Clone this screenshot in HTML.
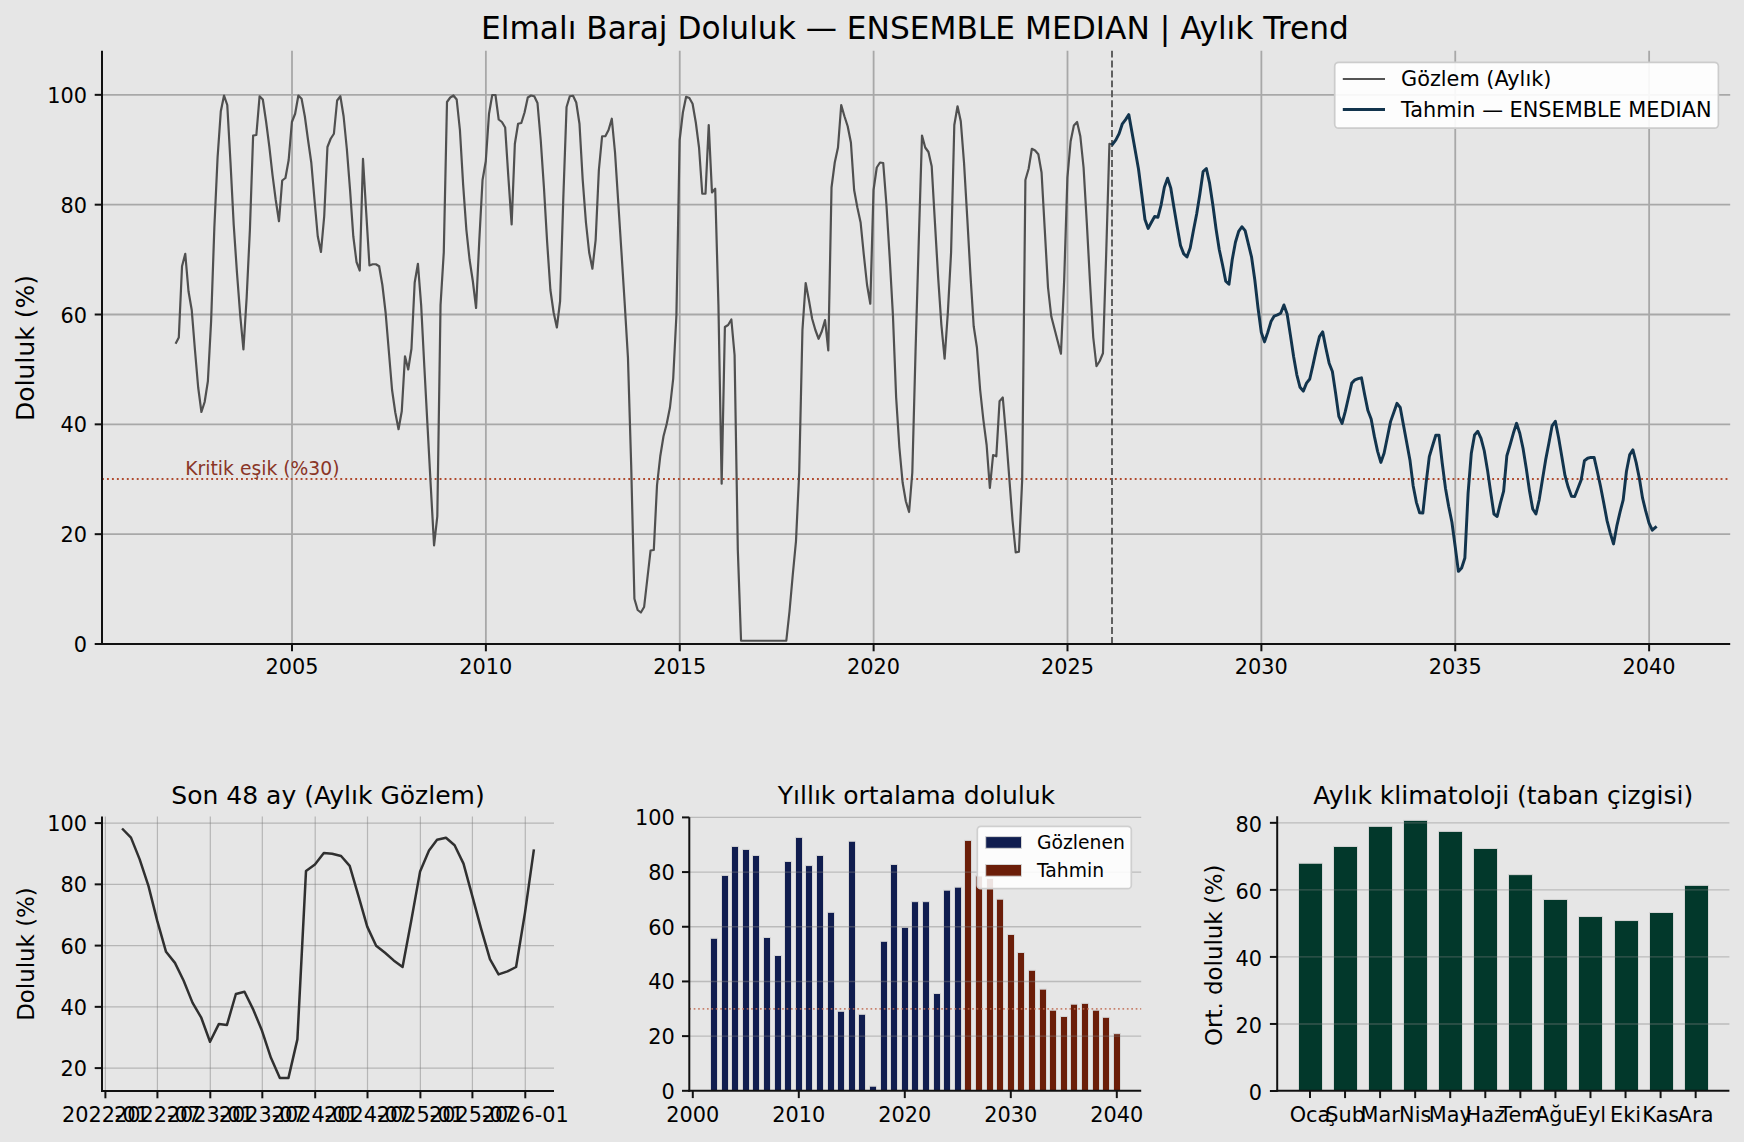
<!DOCTYPE html>
<html lang="tr"><head><meta charset="utf-8"><title>Elmalı Baraj Doluluk</title>
<style>
html,body{margin:0;padding:0;background:#e6e6e6;}
body{width:1744px;height:1142px;overflow:hidden;}
svg{display:block;font-family:'DejaVu Sans','Liberation Sans',sans-serif;}
</style></head><body>
<svg width="1744" height="1142" viewBox="0 0 1744 1142">
<rect width="1744" height="1142" fill="#e6e6e6"/>
<g id="main">
<line x1="292" y1="50.8" x2="292" y2="644" stroke="#a8a8a8" stroke-width="1.8"/>
<line x1="485.88" y1="50.8" x2="485.88" y2="644" stroke="#a8a8a8" stroke-width="1.8"/>
<line x1="679.75" y1="50.8" x2="679.75" y2="644" stroke="#a8a8a8" stroke-width="1.8"/>
<line x1="873.62" y1="50.8" x2="873.62" y2="644" stroke="#a8a8a8" stroke-width="1.8"/>
<line x1="1067.5" y1="50.8" x2="1067.5" y2="644" stroke="#a8a8a8" stroke-width="1.8"/>
<line x1="1261.38" y1="50.8" x2="1261.38" y2="644" stroke="#a8a8a8" stroke-width="1.8"/>
<line x1="1455.25" y1="50.8" x2="1455.25" y2="644" stroke="#a8a8a8" stroke-width="1.8"/>
<line x1="1649.12" y1="50.8" x2="1649.12" y2="644" stroke="#a8a8a8" stroke-width="1.8"/>
<line x1="102" y1="534.17" x2="1730.2" y2="534.17" stroke="#a8a8a8" stroke-width="1.8"/>
<line x1="102" y1="424.34" x2="1730.2" y2="424.34" stroke="#a8a8a8" stroke-width="1.8"/>
<line x1="102" y1="314.51" x2="1730.2" y2="314.51" stroke="#a8a8a8" stroke-width="1.8"/>
<line x1="102" y1="204.68" x2="1730.2" y2="204.68" stroke="#a8a8a8" stroke-width="1.8"/>
<line x1="102" y1="94.85" x2="1730.2" y2="94.85" stroke="#a8a8a8" stroke-width="1.8"/>
<line x1="102" y1="478.95" x2="1730.2" y2="478.95" stroke="#b04a2e" stroke-width="1.9" stroke-dasharray="1.875 3.09"/>
<line x1="1112" y1="644" x2="1112" y2="50.8" stroke="#5a5a5a" stroke-width="1.9" stroke-dasharray="6.94 3"/>
<polyline points="175.57,343.75 178.8,337.5 182.03,266.25 185.26,253.75 188.5,291.25 191.73,310 194.96,350 198.19,387.5 201.42,412 204.65,402 207.88,381.25 211.11,321.25 214.35,227.5 217.58,157.5 220.81,111.25 224.04,95.5 227.27,105 230.5,162.5 233.73,225 236.96,272.5 240.2,315 243.43,349.5 246.66,297.5 249.89,230 253.12,135.5 256.35,135 259.58,96.25 262.82,99.5 266.05,121.25 269.28,146.25 272.51,175 275.74,200 278.97,221.25 282.2,180.5 285.43,178 288.67,160 291.9,122 295.13,113.75 298.36,95.5 301.59,98.75 304.82,116.25 308.05,140 311.28,162.5 314.52,200 317.75,236.25 320.98,252 324.21,216.25 327.44,147 330.67,138.75 333.9,133.75 337.13,100.5 340.37,96.25 343.6,116.25 346.83,148.75 350.06,190 353.29,236.25 356.52,262 359.75,270.5 362.99,158.75 366.22,212.5 369.45,265.5 372.68,264.25 375.91,264.25 379.14,266.25 382.37,285 385.6,312.5 388.84,351.25 392.07,390 395.3,412.5 398.53,429.25 401.76,411.25 404.99,356.25 408.22,369.5 411.45,348.75 414.69,282.5 417.92,263.75 421.15,305 424.38,367.5 427.61,427.5 430.84,487.5 434.07,545.5 437.31,516.25 440.54,305 443.77,252.5 447,102 450.23,97.5 453.46,95.5 456.69,99.5 459.92,130 463.16,185 466.39,230 469.62,260 472.85,281.25 476.08,308 479.31,240 482.54,180 485.77,161.25 489.01,113.75 492.24,95 495.47,95 498.7,119.5 501.93,122 505.16,127.5 508.39,177.5 511.63,224.5 514.86,143.75 518.09,123.75 521.32,123 524.55,112.5 527.78,97.5 531.01,95.5 534.24,96.25 537.48,103 540.71,140 543.94,187.5 547.17,242.5 550.4,290 553.63,312.5 556.86,327.5 560.09,301.25 563.33,197.5 566.56,107 569.79,96.25 573.02,95.75 576.25,102.5 579.48,123.75 582.71,180 585.95,222.5 589.18,252.5 592.41,268.75 595.64,240 598.87,170 602.1,136.25 605.33,136.25 608.56,130 611.8,118.75 615.03,152.5 618.26,202.5 621.49,252.5 624.72,303.75 627.95,357.5 631.18,465 634.41,598.75 637.65,610 640.88,612.5 644.11,607 647.34,578.75 650.57,550.5 653.8,550 657.03,485 660.26,456.25 663.5,436.25 666.73,423.75 669.96,407.5 673.19,378.75 676.42,315 679.65,140 682.88,112.5 686.12,96.75 689.35,98 692.58,103.75 695.81,122.5 699.04,147.5 702.27,193.75 705.5,193.75 708.73,125 711.97,192.5 715.2,188.75 718.43,305 721.66,483.75 724.89,327 728.12,325 731.35,319.5 734.58,355 737.82,550 741.05,640.75 744.28,640.75 747.51,640.75 750.74,640.75 753.97,640.75 757.2,640.75 760.44,640.75 763.67,640.75 766.9,640.75 770.13,640.75 773.36,640.75 776.59,640.75 779.82,640.75 783.05,640.75 786.29,640.75 789.52,611.25 792.75,575 795.98,541.25 799.21,472.5 802.44,330 805.67,283 808.9,300 812.14,318.75 815.37,330 818.6,338.75 821.83,331.25 825.06,320 828.29,350.5 831.52,187.5 834.76,162.5 837.99,147.5 841.22,105 844.45,116.25 847.68,126.25 850.91,142.5 854.14,190 857.37,207.5 860.61,222.5 863.84,255 867.07,285 870.3,303.75 873.53,190 876.76,167.5 879.99,162.5 883.22,163 886.46,205 889.69,257.5 892.92,315 896.15,397.5 899.38,447.5 902.61,482.5 905.84,501.25 909.08,512 912.31,472.5 915.54,351.5 918.77,241 922,135.5 925.23,147.5 928.46,152 931.69,166.25 934.93,222.5 938.16,277.5 941.39,325 944.62,358.75 947.85,312.5 951.08,252.5 954.31,125 957.54,106.25 960.78,121.25 964.01,162.5 967.24,217.5 970.47,275 973.7,326.25 976.93,347.5 980.16,390 983.39,420 986.63,445 989.86,488 993.09,455 996.32,456.25 999.55,401.25 1002.78,397.5 1006.01,435 1009.25,477.5 1012.48,520 1015.71,552.5 1018.94,551.75 1022.17,480 1025.4,180 1028.63,168.75 1031.86,148.75 1035.1,150.5 1038.33,154.25 1041.56,172.5 1044.79,230 1048.02,287.5 1051.25,316.25 1054.48,328.75 1057.71,341.25 1060.95,353.75 1064.18,280 1067.41,177.5 1070.64,141.25 1073.87,125.5 1077.1,122 1080.33,136.25 1083.57,167.5 1086.8,222.5 1090.03,282.5 1093.26,337.5 1096.49,366.25 1099.72,361 1102.95,353.25 1106.18,254.25 1109.42,143.75 1112,144.25" fill="none" stroke="#505050" stroke-width="2.2" stroke-linejoin="round"/>
<polyline points="1112.65,144.07 1115.88,139.91 1119.11,133.59 1122.34,123.78 1125.57,119.62 1128.8,114.62 1132.03,132.43 1135.27,150.73 1138.5,169.03 1141.73,193.99 1144.96,219.44 1148.19,228.43 1151.42,222.27 1154.65,216.45 1157.89,217.28 1161.12,204.8 1164.35,187.33 1167.58,178.18 1170.81,188.16 1174.04,208.13 1177.27,227.26 1180.5,245.57 1183.74,253.89 1186.97,256.88 1190.2,248.06 1193.43,230.59 1196.66,213.95 1199.89,193.99 1203.12,171.53 1206.35,168.53 1209.59,183.17 1212.82,204.8 1216.05,228.93 1219.28,249.73 1222.51,264.7 1225.74,281.25 1228.97,284.25 1232.21,259.71 1235.44,242.24 1238.67,231.42 1241.9,226.77 1245.13,230.59 1248.36,243.9 1251.59,257.21 1254.82,279.98 1258.06,308.27 1261.29,332.39 1264.52,341.88 1267.75,332.39 1270.98,321.58 1274.21,316.09 1277.44,314.92 1280.67,313.26 1283.91,304.94 1287.14,314.09 1290.37,334.89 1293.6,356.52 1296.83,374.82 1300.06,387.3 1303.29,391.13 1306.52,383.14 1309.76,378.98 1312.99,364.84 1316.22,349.86 1319.45,336.55 1322.68,331.89 1325.91,348.2 1329.14,363.17 1332.38,371.49 1335.61,393.12 1338.84,416.42 1342.07,423.4 1345.3,411.42 1348.53,397.28 1351.76,383.14 1354.99,379.81 1358.23,378.65 1361.46,377.81 1364.69,394.79 1367.92,410.59 1371.15,418.91 1374.38,436.38 1377.61,451.36 1380.84,462.39 1384.08,453.24 1387.31,437.44 1390.54,421.63 1393.77,412.48 1397,403.33 1400.23,407.49 1403.46,424.96 1406.7,442.43 1409.93,459.9 1413.16,485.69 1416.39,502.32 1419.62,512.81 1422.85,513.14 1426.08,483.19 1429.31,456.57 1432.55,445.75 1435.78,435.27 1439.01,435.27 1442.24,463.22 1445.47,488.18 1448.7,506.48 1451.93,522.29 1455.16,546.42 1458.4,571.37 1461.63,568.04 1464.86,558.06 1468.09,493.17 1471.32,453.24 1474.55,434.94 1477.78,431.28 1481.02,438.27 1484.25,450.75 1487.48,469.88 1490.71,492.34 1493.94,513.97 1497.17,516.47 1500.4,503.16 1503.63,491.18 1506.87,455.74 1510.1,444.92 1513.33,433.28 1516.56,423.29 1519.79,433.28 1523.02,448.25 1526.25,468.22 1529.48,490.68 1532.72,508.98 1535.95,513.97 1539.18,499.83 1542.41,479.86 1545.64,459.9 1548.87,443.26 1552.1,425.79 1555.34,421.3 1558.57,437.44 1561.8,456.57 1565.03,475.7 1568.26,487.35 1571.49,496.17 1574.72,496.5 1577.95,488.18 1581.19,479.86 1584.42,460.73 1587.65,458.23 1590.88,457.4 1594.11,457.4 1597.34,471.54 1600.57,486.52 1603.8,503.16 1607.04,520.63 1610.27,533.1 1613.5,543.92 1616.73,526.45 1619.96,512.31 1623.19,499.83 1626.42,471.54 1629.65,454.91 1632.89,449.91 1636.12,462.39 1639.35,478.2 1642.58,498.16 1645.81,511.48 1649.04,523.12 1652.27,530.11 1655.51,527.28" fill="none" stroke="#12344d" stroke-width="2.95" stroke-linejoin="round" stroke-linecap="square"/>
<line x1="102" y1="50.8" x2="102" y2="645" stroke="#111" stroke-width="2.0"/>
<line x1="101" y1="644" x2="1730.2" y2="644" stroke="#111" stroke-width="2.0"/>
<line x1="292" y1="644" x2="292" y2="651.3" stroke="#111" stroke-width="2.0"/>
<text x="292" y="674.2" font-size="20.83" text-anchor="middle" fill="#000">2005</text>
<line x1="485.88" y1="644" x2="485.88" y2="651.3" stroke="#111" stroke-width="2.0"/>
<text x="485.88" y="674.2" font-size="20.83" text-anchor="middle" fill="#000">2010</text>
<line x1="679.75" y1="644" x2="679.75" y2="651.3" stroke="#111" stroke-width="2.0"/>
<text x="679.75" y="674.2" font-size="20.83" text-anchor="middle" fill="#000">2015</text>
<line x1="873.62" y1="644" x2="873.62" y2="651.3" stroke="#111" stroke-width="2.0"/>
<text x="873.62" y="674.2" font-size="20.83" text-anchor="middle" fill="#000">2020</text>
<line x1="1067.5" y1="644" x2="1067.5" y2="651.3" stroke="#111" stroke-width="2.0"/>
<text x="1067.5" y="674.2" font-size="20.83" text-anchor="middle" fill="#000">2025</text>
<line x1="1261.38" y1="644" x2="1261.38" y2="651.3" stroke="#111" stroke-width="2.0"/>
<text x="1261.38" y="674.2" font-size="20.83" text-anchor="middle" fill="#000">2030</text>
<line x1="1455.25" y1="644" x2="1455.25" y2="651.3" stroke="#111" stroke-width="2.0"/>
<text x="1455.25" y="674.2" font-size="20.83" text-anchor="middle" fill="#000">2035</text>
<line x1="1649.12" y1="644" x2="1649.12" y2="651.3" stroke="#111" stroke-width="2.0"/>
<text x="1649.12" y="674.2" font-size="20.83" text-anchor="middle" fill="#000">2040</text>
<line x1="94.7" y1="644" x2="102" y2="644" stroke="#111" stroke-width="2.0"/>
<text x="87" y="652.1" font-size="20.83" text-anchor="end" fill="#000">0</text>
<line x1="94.7" y1="534.17" x2="102" y2="534.17" stroke="#111" stroke-width="2.0"/>
<text x="87" y="542.27" font-size="20.83" text-anchor="end" fill="#000">20</text>
<line x1="94.7" y1="424.34" x2="102" y2="424.34" stroke="#111" stroke-width="2.0"/>
<text x="87" y="432.44" font-size="20.83" text-anchor="end" fill="#000">40</text>
<line x1="94.7" y1="314.51" x2="102" y2="314.51" stroke="#111" stroke-width="2.0"/>
<text x="87" y="322.61" font-size="20.83" text-anchor="end" fill="#000">60</text>
<line x1="94.7" y1="204.68" x2="102" y2="204.68" stroke="#111" stroke-width="2.0"/>
<text x="87" y="212.78" font-size="20.83" text-anchor="end" fill="#000">80</text>
<line x1="94.7" y1="94.85" x2="102" y2="94.85" stroke="#111" stroke-width="2.0"/>
<text x="87" y="102.95" font-size="20.83" text-anchor="end" fill="#000">100</text>
<text transform="translate(34.2 348) rotate(-90)" font-size="25" text-anchor="middle" fill="#000">Doluluk (%)</text>
<text x="914.9" y="38.9" font-size="31.25" text-anchor="middle" fill="#000">Elmalı Baraj Doluluk — ENSEMBLE MEDIAN | Aylık Trend</text>
<text x="185.3" y="475" font-size="18.75" text-anchor="start" fill="#8a3526">Kritik eşik (%30)</text>
<rect x="1334.7" y="62.3" width="383.7" height="65.9" rx="4" ry="4" fill="#ffffff" fill-opacity="0.9" stroke="#cccccc" stroke-width="1.7"/>
<line x1="1342.8" y1="79" x2="1385" y2="79" stroke="#545454" stroke-width="2.1"/>
<line x1="1342.8" y1="109.5" x2="1385" y2="109.5" stroke="#12344d" stroke-width="3.1"/>
<text x="1401" y="86.1" font-size="20.83" text-anchor="start" fill="#000">Gözlem (Aylık)</text>
<text x="1401" y="117.3" font-size="20.83" text-anchor="start" fill="#000">Tahmin — ENSEMBLE MEDIAN</text>
</g>
<g id="last48">
<line x1="105.4" y1="816.5" x2="105.4" y2="1091" stroke="#808080" stroke-opacity="0.47" stroke-width="1.2"/>
<line x1="157.42" y1="816.5" x2="157.42" y2="1091" stroke="#808080" stroke-opacity="0.47" stroke-width="1.2"/>
<line x1="210.3" y1="816.5" x2="210.3" y2="1091" stroke="#808080" stroke-opacity="0.47" stroke-width="1.2"/>
<line x1="262.32" y1="816.5" x2="262.32" y2="1091" stroke="#808080" stroke-opacity="0.47" stroke-width="1.2"/>
<line x1="315.2" y1="816.5" x2="315.2" y2="1091" stroke="#808080" stroke-opacity="0.47" stroke-width="1.2"/>
<line x1="367.51" y1="816.5" x2="367.51" y2="1091" stroke="#808080" stroke-opacity="0.47" stroke-width="1.2"/>
<line x1="420.39" y1="816.5" x2="420.39" y2="1091" stroke="#808080" stroke-opacity="0.47" stroke-width="1.2"/>
<line x1="472.41" y1="816.5" x2="472.41" y2="1091" stroke="#808080" stroke-opacity="0.47" stroke-width="1.2"/>
<line x1="525.29" y1="816.5" x2="525.29" y2="1091" stroke="#808080" stroke-opacity="0.47" stroke-width="1.2"/>
<line x1="102" y1="1068.1" x2="554" y2="1068.1" stroke="#808080" stroke-opacity="0.47" stroke-width="1.2"/>
<line x1="102" y1="1006.85" x2="554" y2="1006.85" stroke="#808080" stroke-opacity="0.47" stroke-width="1.2"/>
<line x1="102" y1="945.6" x2="554" y2="945.6" stroke="#808080" stroke-opacity="0.47" stroke-width="1.2"/>
<line x1="102" y1="884.35" x2="554" y2="884.35" stroke="#808080" stroke-opacity="0.47" stroke-width="1.2"/>
<line x1="102" y1="823.1" x2="554" y2="823.1" stroke="#808080" stroke-opacity="0.47" stroke-width="1.2"/>
<polyline points="122.07,828.5 130.98,837.6 139.6,859.1 148.51,886.1 157.13,920.4 166.04,951.8 174.95,962.9 183.57,980.5 192.48,1002.6 201.1,1017.3 210.01,1041.8 218.92,1023.9 226.97,1024.9 235.88,994 244.5,991.8 253.41,1009.9 262.03,1030.8 270.94,1057.8 279.85,1078.1 288.47,1077.9 297.38,1039.4 306.01,870.9 314.91,864.5 323.82,853 332.16,853.7 341.07,856 349.69,865.8 358.6,896.4 367.22,926.6 376.13,945.7 385.04,952.8 393.66,960.4 402.57,967 411.19,920.9 420.1,871.4 429.01,850.6 437.06,839.8 445.97,837.8 454.59,845.2 463.5,863.6 472.12,895.4 481.03,928.3 489.94,959.2 498.56,974.4 507.47,971.4 516.09,967 525,912.6 533.91,849.3" fill="none" stroke="#303030" stroke-width="2.5" stroke-linejoin="round"/>
<line x1="102" y1="816.5" x2="102" y2="1092" stroke="#111" stroke-width="2.0"/>
<line x1="101" y1="1091" x2="554" y2="1091" stroke="#111" stroke-width="2.0"/>
<line x1="105.4" y1="1091" x2="105.4" y2="1098.3" stroke="#111" stroke-width="2.0"/>
<text x="105.4" y="1122.1" font-size="20.83" text-anchor="middle" fill="#000">2022-01</text>
<line x1="157.42" y1="1091" x2="157.42" y2="1098.3" stroke="#111" stroke-width="2.0"/>
<text x="157.42" y="1122.1" font-size="20.83" text-anchor="middle" fill="#000">2022-07</text>
<line x1="210.3" y1="1091" x2="210.3" y2="1098.3" stroke="#111" stroke-width="2.0"/>
<text x="210.3" y="1122.1" font-size="20.83" text-anchor="middle" fill="#000">2023-01</text>
<line x1="262.32" y1="1091" x2="262.32" y2="1098.3" stroke="#111" stroke-width="2.0"/>
<text x="262.32" y="1122.1" font-size="20.83" text-anchor="middle" fill="#000">2023-07</text>
<line x1="315.2" y1="1091" x2="315.2" y2="1098.3" stroke="#111" stroke-width="2.0"/>
<text x="315.2" y="1122.1" font-size="20.83" text-anchor="middle" fill="#000">2024-01</text>
<line x1="367.51" y1="1091" x2="367.51" y2="1098.3" stroke="#111" stroke-width="2.0"/>
<text x="367.51" y="1122.1" font-size="20.83" text-anchor="middle" fill="#000">2024-07</text>
<line x1="420.39" y1="1091" x2="420.39" y2="1098.3" stroke="#111" stroke-width="2.0"/>
<text x="420.39" y="1122.1" font-size="20.83" text-anchor="middle" fill="#000">2025-01</text>
<line x1="472.41" y1="1091" x2="472.41" y2="1098.3" stroke="#111" stroke-width="2.0"/>
<text x="472.41" y="1122.1" font-size="20.83" text-anchor="middle" fill="#000">2025-07</text>
<line x1="525.29" y1="1091" x2="525.29" y2="1098.3" stroke="#111" stroke-width="2.0"/>
<text x="525.29" y="1122.1" font-size="20.83" text-anchor="middle" fill="#000">2026-01</text>
<line x1="94.7" y1="1068.1" x2="102" y2="1068.1" stroke="#111" stroke-width="2.0"/>
<text x="87" y="1076.2" font-size="20.83" text-anchor="end" fill="#000">20</text>
<line x1="94.7" y1="1006.85" x2="102" y2="1006.85" stroke="#111" stroke-width="2.0"/>
<text x="87" y="1014.95" font-size="20.83" text-anchor="end" fill="#000">40</text>
<line x1="94.7" y1="945.6" x2="102" y2="945.6" stroke="#111" stroke-width="2.0"/>
<text x="87" y="953.7" font-size="20.83" text-anchor="end" fill="#000">60</text>
<line x1="94.7" y1="884.35" x2="102" y2="884.35" stroke="#111" stroke-width="2.0"/>
<text x="87" y="892.45" font-size="20.83" text-anchor="end" fill="#000">80</text>
<line x1="94.7" y1="823.1" x2="102" y2="823.1" stroke="#111" stroke-width="2.0"/>
<text x="87" y="831.2" font-size="20.83" text-anchor="end" fill="#000">100</text>
<text transform="translate(34.4 954) rotate(-90)" font-size="22.92" text-anchor="middle" fill="#000">Doluluk (%)</text>
<text x="328" y="803.9" font-size="25" text-anchor="middle" fill="#000">Son 48 ay (Aylık Gözlem)</text>
</g>
<g id="yearly">
<rect x="710.5" y="938.29" width="7" height="152.51" fill="#101d4f" stroke="#d5d5d5" stroke-width="1"/>
<rect x="721.5" y="875.41" width="7" height="215.39" fill="#101d4f" stroke="#d5d5d5" stroke-width="1"/>
<rect x="731.5" y="846.43" width="7" height="244.37" fill="#101d4f" stroke="#d5d5d5" stroke-width="1"/>
<rect x="742.5" y="849.43" width="7" height="241.37" fill="#101d4f" stroke="#d5d5d5" stroke-width="1"/>
<rect x="752.5" y="855.45" width="7" height="235.35" fill="#101d4f" stroke="#d5d5d5" stroke-width="1"/>
<rect x="763.5" y="937.47" width="7" height="153.33" fill="#101d4f" stroke="#d5d5d5" stroke-width="1"/>
<rect x="774.5" y="955.51" width="7" height="135.29" fill="#101d4f" stroke="#d5d5d5" stroke-width="1"/>
<rect x="784.5" y="861.46" width="7" height="229.34" fill="#101d4f" stroke="#d5d5d5" stroke-width="1"/>
<rect x="795.5" y="837.4" width="7" height="253.39" fill="#101d4f" stroke="#d5d5d5" stroke-width="1"/>
<rect x="805.5" y="865.57" width="7" height="225.23" fill="#101d4f" stroke="#d5d5d5" stroke-width="1"/>
<rect x="816.5" y="855.45" width="7" height="235.35" fill="#101d4f" stroke="#d5d5d5" stroke-width="1"/>
<rect x="827.5" y="912.32" width="7" height="178.48" fill="#101d4f" stroke="#d5d5d5" stroke-width="1"/>
<rect x="837.5" y="1011.29" width="7" height="79.51" fill="#101d4f" stroke="#d5d5d5" stroke-width="1"/>
<rect x="848.5" y="841.23" width="7" height="249.57" fill="#101d4f" stroke="#d5d5d5" stroke-width="1"/>
<rect x="858.5" y="1014.29" width="7" height="76.51" fill="#101d4f" stroke="#d5d5d5" stroke-width="1"/>
<rect x="869.5" y="1086.2" width="7" height="4.6" fill="#101d4f" stroke="#d5d5d5" stroke-width="1"/>
<rect x="880.5" y="941.3" width="7" height="149.5" fill="#101d4f" stroke="#d5d5d5" stroke-width="1"/>
<rect x="890.5" y="864.47" width="7" height="226.33" fill="#101d4f" stroke="#d5d5d5" stroke-width="1"/>
<rect x="901.5" y="927.35" width="7" height="163.45" fill="#101d4f" stroke="#d5d5d5" stroke-width="1"/>
<rect x="911.5" y="901.65" width="7" height="189.15" fill="#101d4f" stroke="#d5d5d5" stroke-width="1"/>
<rect x="922.5" y="901.65" width="7" height="189.15" fill="#101d4f" stroke="#d5d5d5" stroke-width="1"/>
<rect x="933.5" y="993.52" width="7" height="97.28" fill="#101d4f" stroke="#d5d5d5" stroke-width="1"/>
<rect x="943.5" y="890.17" width="7" height="200.63" fill="#101d4f" stroke="#d5d5d5" stroke-width="1"/>
<rect x="954.5" y="887.16" width="7" height="203.64" fill="#101d4f" stroke="#d5d5d5" stroke-width="1"/>
<rect x="964.5" y="840.41" width="7" height="250.39" fill="#6b1e09" stroke="#d5d5d5" stroke-width="1"/>
<rect x="975.5" y="875.95" width="7" height="214.85" fill="#6b1e09" stroke="#d5d5d5" stroke-width="1"/>
<rect x="986.5" y="878.41" width="7" height="212.38" fill="#6b1e09" stroke="#d5d5d5" stroke-width="1"/>
<rect x="996.5" y="899.19" width="7" height="191.61" fill="#6b1e09" stroke="#d5d5d5" stroke-width="1"/>
<rect x="1007.5" y="934.46" width="7" height="156.34" fill="#6b1e09" stroke="#d5d5d5" stroke-width="1"/>
<rect x="1017.5" y="952.51" width="7" height="138.29" fill="#6b1e09" stroke="#d5d5d5" stroke-width="1"/>
<rect x="1028.5" y="970.28" width="7" height="120.52" fill="#6b1e09" stroke="#d5d5d5" stroke-width="1"/>
<rect x="1039.5" y="989.14" width="7" height="101.66" fill="#6b1e09" stroke="#d5d5d5" stroke-width="1"/>
<rect x="1049.5" y="1010.19" width="7" height="80.61" fill="#6b1e09" stroke="#d5d5d5" stroke-width="1"/>
<rect x="1060.5" y="1016.48" width="7" height="74.32" fill="#6b1e09" stroke="#d5d5d5" stroke-width="1"/>
<rect x="1070.5" y="1004.18" width="7" height="86.62" fill="#6b1e09" stroke="#d5d5d5" stroke-width="1"/>
<rect x="1081.5" y="1003.36" width="7" height="87.44" fill="#6b1e09" stroke="#d5d5d5" stroke-width="1"/>
<rect x="1092.5" y="1010.19" width="7" height="80.61" fill="#6b1e09" stroke="#d5d5d5" stroke-width="1"/>
<rect x="1102.5" y="1017.3" width="7" height="73.5" fill="#6b1e09" stroke="#d5d5d5" stroke-width="1"/>
<rect x="1113.5" y="1033.71" width="7" height="57.09" fill="#6b1e09" stroke="#d5d5d5" stroke-width="1"/>
<line x1="689.3" y1="1036.12" x2="1141.2" y2="1036.12" stroke="#808080" stroke-opacity="0.42" stroke-width="1.4"/>
<line x1="689.3" y1="981.44" x2="1141.2" y2="981.44" stroke="#808080" stroke-opacity="0.42" stroke-width="1.4"/>
<line x1="689.3" y1="926.76" x2="1141.2" y2="926.76" stroke="#808080" stroke-opacity="0.42" stroke-width="1.4"/>
<line x1="689.3" y1="872.08" x2="1141.2" y2="872.08" stroke="#808080" stroke-opacity="0.42" stroke-width="1.4"/>
<line x1="689.3" y1="817.4" x2="1141.2" y2="817.4" stroke="#808080" stroke-opacity="0.42" stroke-width="1.4"/>
<line x1="689.3" y1="1008.78" x2="1141.2" y2="1008.78" stroke="#c0694f" stroke-opacity="0.8" stroke-width="1.7" stroke-dasharray="1.67 2.75"/>
<line x1="689.3" y1="817.3" x2="689.3" y2="1091.8" stroke="#111" stroke-width="2.0"/>
<line x1="688.3" y1="1090.8" x2="1141.2" y2="1090.8" stroke="#111" stroke-width="2.0"/>
<line x1="692.8" y1="1090.8" x2="692.8" y2="1098.1" stroke="#111" stroke-width="2.0"/>
<text x="692.8" y="1122.1" font-size="20.83" text-anchor="middle" fill="#000">2000</text>
<line x1="798.8" y1="1090.8" x2="798.8" y2="1098.1" stroke="#111" stroke-width="2.0"/>
<text x="798.8" y="1122.1" font-size="20.83" text-anchor="middle" fill="#000">2010</text>
<line x1="904.8" y1="1090.8" x2="904.8" y2="1098.1" stroke="#111" stroke-width="2.0"/>
<text x="904.8" y="1122.1" font-size="20.83" text-anchor="middle" fill="#000">2020</text>
<line x1="1010.8" y1="1090.8" x2="1010.8" y2="1098.1" stroke="#111" stroke-width="2.0"/>
<text x="1010.8" y="1122.1" font-size="20.83" text-anchor="middle" fill="#000">2030</text>
<line x1="1116.8" y1="1090.8" x2="1116.8" y2="1098.1" stroke="#111" stroke-width="2.0"/>
<text x="1116.8" y="1122.1" font-size="20.83" text-anchor="middle" fill="#000">2040</text>
<line x1="682" y1="1090.8" x2="689.3" y2="1090.8" stroke="#111" stroke-width="2.0"/>
<text x="674.7" y="1098.7" font-size="20.83" text-anchor="end" fill="#000">0</text>
<line x1="682" y1="1036.12" x2="689.3" y2="1036.12" stroke="#111" stroke-width="2.0"/>
<text x="674.7" y="1044.02" font-size="20.83" text-anchor="end" fill="#000">20</text>
<line x1="682" y1="981.44" x2="689.3" y2="981.44" stroke="#111" stroke-width="2.0"/>
<text x="674.7" y="989.34" font-size="20.83" text-anchor="end" fill="#000">40</text>
<line x1="682" y1="926.76" x2="689.3" y2="926.76" stroke="#111" stroke-width="2.0"/>
<text x="674.7" y="934.66" font-size="20.83" text-anchor="end" fill="#000">60</text>
<line x1="682" y1="872.08" x2="689.3" y2="872.08" stroke="#111" stroke-width="2.0"/>
<text x="674.7" y="879.98" font-size="20.83" text-anchor="end" fill="#000">80</text>
<line x1="682" y1="817.4" x2="689.3" y2="817.4" stroke="#111" stroke-width="2.0"/>
<text x="674.7" y="825.3" font-size="20.83" text-anchor="end" fill="#000">100</text>
<text x="916.45" y="803.9" font-size="25" text-anchor="middle" fill="#000">Yıllık ortalama doluluk</text>
<rect x="977.3" y="826.3" width="154" height="62.4" rx="3.5" ry="3.5" fill="#ffffff" fill-opacity="0.88" stroke="#cfcfcf" stroke-width="1.7"/>
<rect x="985.7" y="836.6" width="35.8" height="11.7" fill="#101d4f" stroke="#d5d5d5" stroke-width="1"/>
<rect x="985.7" y="864.5" width="35.8" height="11.7" fill="#6b1e09" stroke="#d5d5d5" stroke-width="1"/>
<text x="1037" y="848.6" font-size="18.75" text-anchor="start" fill="#000">Gözlenen</text>
<text x="1037" y="876.7" font-size="18.75" text-anchor="start" fill="#000">Tahmin</text>
</g>
<g id="clim">
<rect x="1298.5" y="863.23" width="24" height="227.57" fill="#02382b" stroke="#d5d5d5" stroke-width="1"/>
<rect x="1333.5" y="846.47" width="24" height="244.33" fill="#02382b" stroke="#d5d5d5" stroke-width="1"/>
<rect x="1368.5" y="826.36" width="24" height="264.44" fill="#02382b" stroke="#d5d5d5" stroke-width="1"/>
<rect x="1403.5" y="820.33" width="24" height="270.47" fill="#02382b" stroke="#d5d5d5" stroke-width="1"/>
<rect x="1438.5" y="831.39" width="24" height="259.41" fill="#02382b" stroke="#d5d5d5" stroke-width="1"/>
<rect x="1473.5" y="848.49" width="24" height="242.31" fill="#02382b" stroke="#d5d5d5" stroke-width="1"/>
<rect x="1508.5" y="874.63" width="24" height="216.17" fill="#02382b" stroke="#d5d5d5" stroke-width="1"/>
<rect x="1543.5" y="899.44" width="24" height="191.36" fill="#02382b" stroke="#d5d5d5" stroke-width="1"/>
<rect x="1578.5" y="916.53" width="24" height="174.27" fill="#02382b" stroke="#d5d5d5" stroke-width="1"/>
<rect x="1614.5" y="920.55" width="24" height="170.25" fill="#02382b" stroke="#d5d5d5" stroke-width="1"/>
<rect x="1649.5" y="912.51" width="24" height="178.29" fill="#02382b" stroke="#d5d5d5" stroke-width="1"/>
<rect x="1684.5" y="885.36" width="24" height="205.44" fill="#02382b" stroke="#d5d5d5" stroke-width="1"/>
<line x1="1277.2" y1="1023.96" x2="1729.4" y2="1023.96" stroke="#808080" stroke-opacity="0.42" stroke-width="1.4"/>
<line x1="1277.2" y1="956.92" x2="1729.4" y2="956.92" stroke="#808080" stroke-opacity="0.42" stroke-width="1.4"/>
<line x1="1277.2" y1="889.88" x2="1729.4" y2="889.88" stroke="#808080" stroke-opacity="0.42" stroke-width="1.4"/>
<line x1="1277.2" y1="822.84" x2="1729.4" y2="822.84" stroke="#808080" stroke-opacity="0.42" stroke-width="1.4"/>
<line x1="1277.2" y1="816.3" x2="1277.2" y2="1091.8" stroke="#111" stroke-width="2.0"/>
<line x1="1276.2" y1="1090.8" x2="1729.4" y2="1090.8" stroke="#111" stroke-width="2.0"/>
<line x1="1310" y1="1090.8" x2="1310" y2="1098.1" stroke="#111" stroke-width="2.0"/>
<text x="1310" y="1122.1" font-size="20.83" text-anchor="middle" fill="#000">Oca</text>
<line x1="1345.06" y1="1090.8" x2="1345.06" y2="1098.1" stroke="#111" stroke-width="2.0"/>
<text x="1345.06" y="1122.1" font-size="20.83" text-anchor="middle" fill="#000">Şub</text>
<line x1="1380.12" y1="1090.8" x2="1380.12" y2="1098.1" stroke="#111" stroke-width="2.0"/>
<text x="1380.12" y="1122.1" font-size="20.83" text-anchor="middle" fill="#000">Mar</text>
<line x1="1415.18" y1="1090.8" x2="1415.18" y2="1098.1" stroke="#111" stroke-width="2.0"/>
<text x="1415.18" y="1122.1" font-size="20.83" text-anchor="middle" fill="#000">Nis</text>
<line x1="1450.24" y1="1090.8" x2="1450.24" y2="1098.1" stroke="#111" stroke-width="2.0"/>
<text x="1450.24" y="1122.1" font-size="20.83" text-anchor="middle" fill="#000">May</text>
<line x1="1485.3" y1="1090.8" x2="1485.3" y2="1098.1" stroke="#111" stroke-width="2.0"/>
<text x="1485.3" y="1122.1" font-size="20.83" text-anchor="middle" fill="#000">Haz</text>
<line x1="1520.36" y1="1090.8" x2="1520.36" y2="1098.1" stroke="#111" stroke-width="2.0"/>
<text x="1520.36" y="1122.1" font-size="20.83" text-anchor="middle" fill="#000">Tem</text>
<line x1="1555.42" y1="1090.8" x2="1555.42" y2="1098.1" stroke="#111" stroke-width="2.0"/>
<text x="1555.42" y="1122.1" font-size="20.83" text-anchor="middle" fill="#000">Ağu</text>
<line x1="1590.48" y1="1090.8" x2="1590.48" y2="1098.1" stroke="#111" stroke-width="2.0"/>
<text x="1590.48" y="1122.1" font-size="20.83" text-anchor="middle" fill="#000">Eyl</text>
<line x1="1625.54" y1="1090.8" x2="1625.54" y2="1098.1" stroke="#111" stroke-width="2.0"/>
<text x="1625.54" y="1122.1" font-size="20.83" text-anchor="middle" fill="#000">Eki</text>
<line x1="1660.6" y1="1090.8" x2="1660.6" y2="1098.1" stroke="#111" stroke-width="2.0"/>
<text x="1660.6" y="1122.1" font-size="20.83" text-anchor="middle" fill="#000">Kas</text>
<line x1="1695.66" y1="1090.8" x2="1695.66" y2="1098.1" stroke="#111" stroke-width="2.0"/>
<text x="1695.66" y="1122.1" font-size="20.83" text-anchor="middle" fill="#000">Ara</text>
<line x1="1269.9" y1="1091" x2="1277.2" y2="1091" stroke="#111" stroke-width="2.0"/>
<text x="1261.9" y="1099.8" font-size="20.83" text-anchor="end" fill="#000">0</text>
<line x1="1269.9" y1="1023.96" x2="1277.2" y2="1023.96" stroke="#111" stroke-width="2.0"/>
<text x="1261.9" y="1032.76" font-size="20.83" text-anchor="end" fill="#000">20</text>
<line x1="1269.9" y1="956.92" x2="1277.2" y2="956.92" stroke="#111" stroke-width="2.0"/>
<text x="1261.9" y="965.72" font-size="20.83" text-anchor="end" fill="#000">40</text>
<line x1="1269.9" y1="889.88" x2="1277.2" y2="889.88" stroke="#111" stroke-width="2.0"/>
<text x="1261.9" y="898.68" font-size="20.83" text-anchor="end" fill="#000">60</text>
<line x1="1269.9" y1="822.84" x2="1277.2" y2="822.84" stroke="#111" stroke-width="2.0"/>
<text x="1261.9" y="831.64" font-size="20.83" text-anchor="end" fill="#000">80</text>
<text transform="translate(1222 955.2) rotate(-90)" font-size="22.92" text-anchor="middle" fill="#000">Ort. doluluk (%)</text>
<text x="1503.3" y="803.9" font-size="25" text-anchor="middle" fill="#000">Aylık klimatoloji (taban çizgisi)</text>
</g>
</svg>
</body></html>
